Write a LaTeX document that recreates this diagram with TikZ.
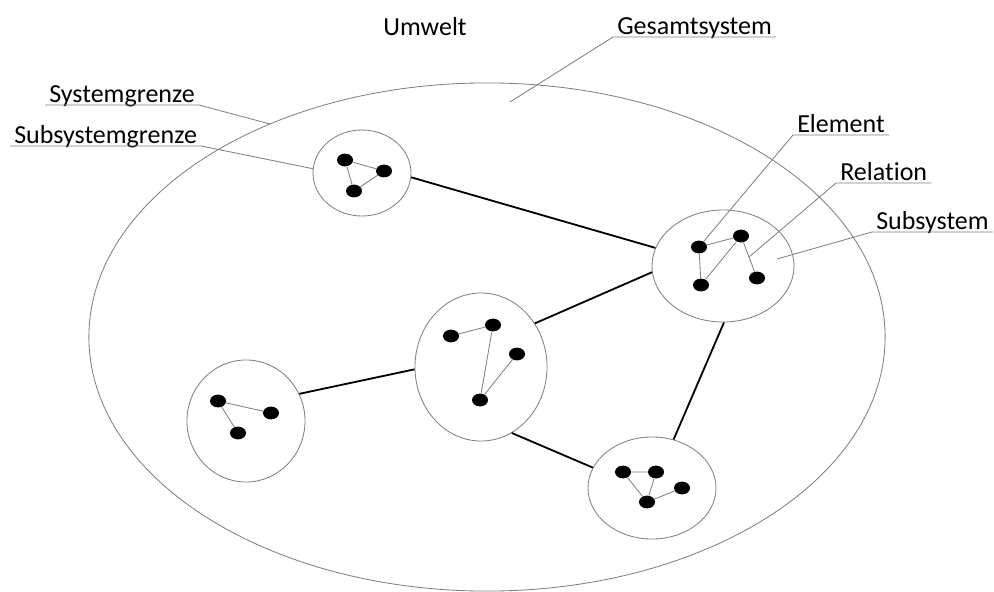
\documentclass[tikz,border=0pt]{standalone}
\usepackage{fontspec}
\setmainfont{Carlito}[Ligatures=NoCommon]
\usepackage{tikz}
\usetikzlibrary{calc, positioning, shapes.geometric}

\tikzset{
  subsys/.style={ellipse, draw=gray, line width=0.6pt, inner sep=0pt},
  elem/.style={ellipse, fill=black, minimum width=0.4cm, minimum height=0.32cm, inner sep=0pt},
  rel/.style={draw=gray, line width=0.6pt},
  link/.style={draw=black, line width=1.3pt},
  leader/.style={draw=gray, line width=0.6pt},
  txt/.style={font=\fontsize{18.5}{20}\selectfont},
  tag/.style={txt, anchor=south west, inner xsep=0.1cm, inner ysep=1.4pt, text depth=0pt},
}

\begin{document}
\begin{tikzpicture}[x=0.025cm, y=-0.025cm]
    \useasboundingbox (0,0) rectangle (994,592);

    % Gesamtsystem (Systemgrenze)
    \node[subsys, minimum width=19.9cm, minimum height=12.7cm] (sys) at (487,337) {};

    % Subsysteme
    \node[subsys, minimum width=2.45cm, minimum height=2.15cm] (s1) at (362,173) {};
    \node[subsys, minimum width=3.55cm, minimum height=2.8cm] (s2) at (723,266) {};
    \node[subsys, minimum width=3.3cm, minimum height=3.7cm] (s3) at (481,367) {};
    \node[subsys, minimum width=2.95cm, minimum height=3.05cm] (s4) at (246,421) {};
    \node[subsys, minimum width=3.2cm, minimum height=2.55cm] (s5) at (652,488) {};

    % Elemente
    \node[elem] (a1) at (345,160) {};
    \node[elem] (b1) at (384,171) {};
    \node[elem] (c1) at (354,191) {};

    \node[elem] (a2) at (699,247) {};
    \node[elem] (b2) at (741,236) {};
    \node[elem] (c2) at (757,278) {};
    \node[elem] (d2) at (701,285) {};

    \node[elem] (a3) at (451,336) {};
    \node[elem] (b3) at (493,325) {};
    \node[elem] (c3) at (517,354) {};
    \node[elem] (d3) at (480,400) {};

    \node[elem] (a4) at (218,401) {};
    \node[elem] (b4) at (271,413) {};
    \node[elem] (c4) at (238,433) {};

    \node[elem] (a5) at (623,472) {};
    \node[elem] (b5) at (656,472) {};
    \node[elem] (c5) at (682,488) {};
    \node[elem] (d5) at (647,502) {};

    % Relationen
    \draw[rel] (a1) -- (b1) -- (c1) -- (a1);
    \draw[rel] (d2) -- (a2) -- (b2) -- (c2);
    \draw[rel] (b2) -- (d2);
    \draw[rel] (a3) -- (b3) -- (d3) -- (c3);
    \draw[rel] (b4) -- (a4) -- (c4);
    \draw[rel] (a5) -- (b5) -- (d5) -- (a5);
    \draw[rel] (d5) -- (c5);

    % Verbindungen der Subsysteme
    \draw[link] (s1.355) -- (s2.165);
    \draw[link] (s2.185) -- (s3.39);
    \draw[link] (s3.182) -- (s4.27);
    \draw[link] (s3.295) -- (s5.161);
    \draw[link] (s2.271) -- (s5.66);

    % Beschriftungen
    \node[txt, anchor=base] (umwelt) at (425,35) {Umwelt};
    \node[tag] (lgesamt) at (613,37) {Gesamtsystem};
    \node[tag] (lelem) at (793,135) {Element};
    \node[tag] (lrel) at (836,183) {Relation};
    \node[tag] (lsub) at (872,232) {Subsystem};
    \node[tag] (lgrenze) at (45,105) {Systemgrenze};
    \node[tag] (lsubgrenze) at (10,146) {Subsystemgrenze};

    \coordinate (pgesamt) at (510,102);
    \coordinate (pgrenze) at (270,124);
    \coordinate (psub) at (777,259);

    \draw[leader] (lgesamt.south east) -- (lgesamt.south west) -- (pgesamt);
    \draw[leader] (lelem.south east) -- (lelem.south west) -- (a2);
    \draw[leader] (lrel.south east) -- (lrel.south west) -- ($(b2)!0.5!(c2)$);
    \draw[leader] (lsub.south east) -- (lsub.south west) -- (psub);
    \draw[leader] (lgrenze.south west) -- (lgrenze.south east) -- (pgrenze);
    \draw[leader] (lsubgrenze.south west) -- (lsubgrenze.south east) -- (s1.175);
\end{tikzpicture}
\end{document}
